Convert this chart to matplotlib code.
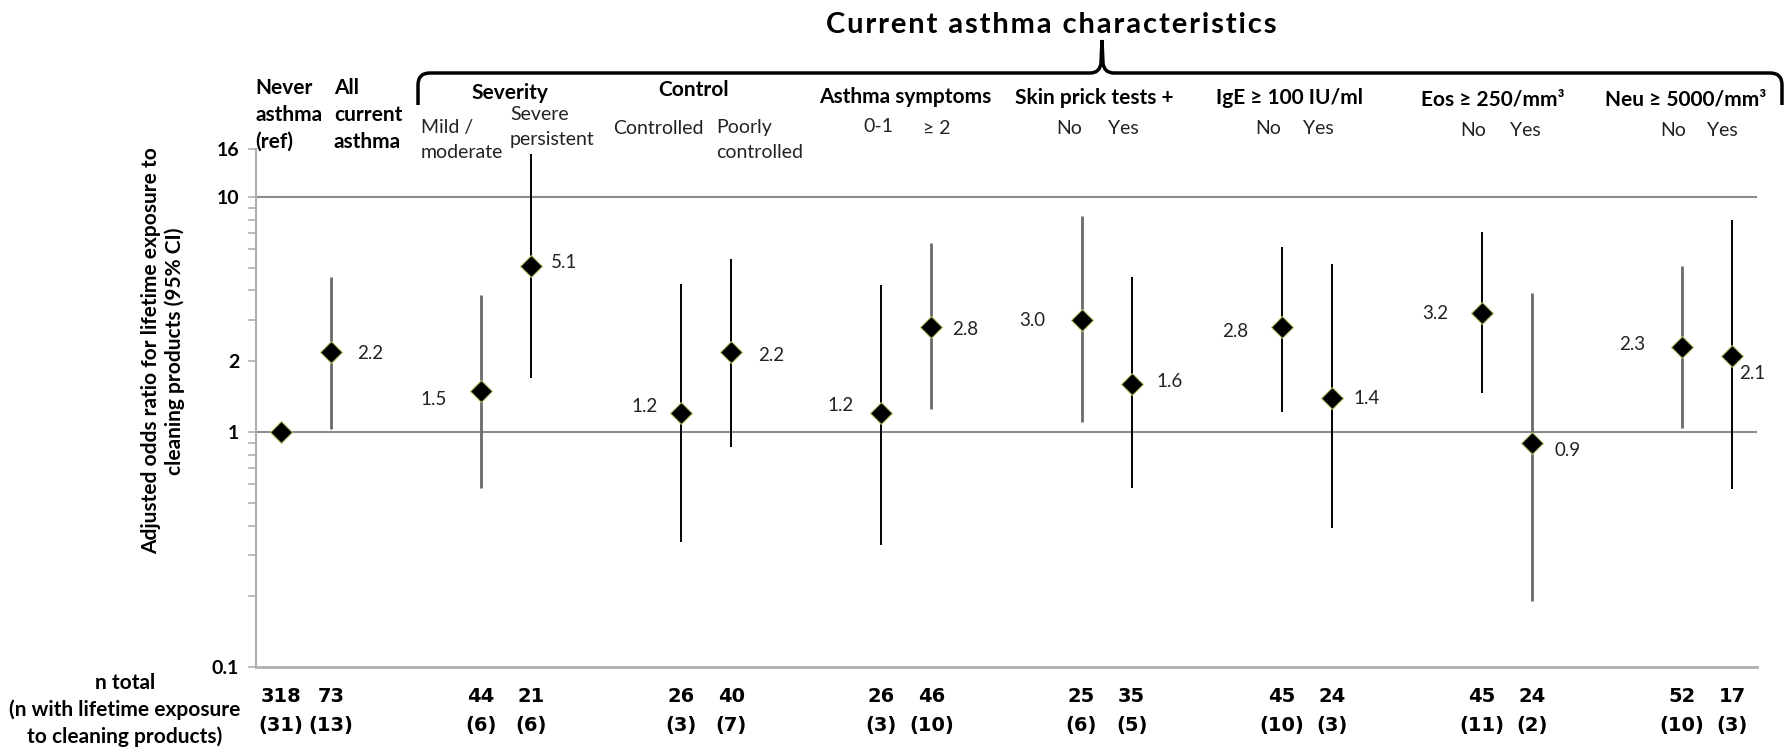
import numpy as np
import matplotlib.pyplot as plt
import matplotlib.transforms as mtrans
from matplotlib.path import Path
from matplotlib.patches import PathPatch
from matplotlib.ticker import FixedLocator, NullFormatter

plt.rcParams['font.family'] = ['Lato', 'DejaVu Sans']

# -------------------------
# Data
# -------------------------
groups = ["Never asthma (ref)", "All current asthma", "Mild / moderate", "Severe persistent",
          "Controlled", "Poorly controlled", "Symptoms 0-1", "Symptoms >= 2",
          "SPT No", "SPT Yes", "IgE No", "IgE Yes", "Eos No", "Eos Yes", "Neu No", "Neu Yes"]
# category slot of each estimate (blank slots separate the groups)
slots = [0, 1, 4, 5, 8, 9, 12, 13, 16, 17, 20, 21, 24, 25, 28, 29]

odds = [1.0, 2.2, 1.5, 5.1, 1.2, 2.2, 1.2, 2.8, 3.0, 1.6, 2.8, 1.4, 3.2, 0.9, 2.3, 2.1]
ci_low = [np.nan, 1.03, 0.58, 1.70, 0.34, 0.86, 0.33, 1.25, 1.10, 0.58, 1.22, 0.39, 1.47, 0.19, 1.04, 0.57]
ci_high = [np.nan, 4.57, 3.83, 15.2, 4.26, 5.45, 4.22, 6.37, 8.30, 4.57, 6.13, 5.19, 7.10, 3.90, 5.09, 7.98]
show_label = [False] + [True] * 15

n_total = [318, 73, 44, 21, 26, 40, 26, 46, 25, 35, 45, 24, 45, 24, 52, 17]
n_exposed = [31, 13, 6, 6, 3, 7, 3, 10, 6, 5, 10, 3, 11, 2, 10, 3]

# -------------------------
# Styling
# -------------------------
W, H = 1786, 749
GRAY = "#6a6a6a"
line_cols = ["k", GRAY, GRAY, "k", "k", "k", "k", GRAY, GRAY, "k", "k", "k", "k", GRAY, GRAY, "k"]
# label offsets in pixels (dx, dy), negative dx -> label to the left
label_offsets = [(0, 0), (26, -2), (-34, -9), (20, 3), (-24, 7), (27, -4), (-28, 8), (21, -3),
                 (-36, -1), (25, 3), (-33, -5), (22, -1), (-33, 0), (23, -8), (-37, 2), (7, -17)]


def fx(px):
    return px / W


def fy(py):
    return 1 - py / H


fig = plt.figure(figsize=(W / 100, H / 100), dpi=100)
ax = fig.add_axes([fx(256), fy(667), fx(1757) - fx(256), fy(149) - fy(667)])

ax.set_yscale("log")
ax.set_ylim(0.1, 16)
ax.set_xlim(-0.5, 29.5)

for v in [1, 10]:
    ax.axhline(v, color="#8c8c8c", lw=1.5, zorder=1)

for x, lo, hi, c in zip(slots, ci_low, ci_high, line_cols):
    if np.isnan(lo):
        continue
    ax.vlines(x, lo, hi, color=c, lw=2.0 if c == GRAY else 1.4, zorder=2)

ax.plot(slots, odds, linestyle="none", marker="D", markersize=11.5,
        markerfacecolor="black", markeredgecolor="#b5c46a", markeredgewidth=0.8, zorder=3)

for x, v, show, (dx, dy) in zip(slots, odds, show_label, label_offsets):
    if not show:
        continue
    ax.annotate(f"{v:.1f}", (x, v), xytext=(dx, dy), textcoords="offset pixels",
                ha="left" if dx > 0 else "right", va="center", fontsize=13.5, color="#222222")

# axes look
for s in ["top", "right"]:
    ax.spines[s].set_visible(False)
ax.spines["left"].set_color("#b0b0b0")
ax.spines["bottom"].set_color("#b0b0b0")
ax.spines["left"].set_linewidth(1.5)
ax.spines["bottom"].set_linewidth(2)
ax.set_xticks([])

ax.yaxis.set_major_locator(FixedLocator([0.1, 1, 2, 10, 16]))
ax.set_yticklabels(["0.1", "1", "2", "10", "16"], fontweight="bold", fontsize=14)
ax.yaxis.set_minor_locator(FixedLocator([0.2, 0.3, 0.4, 0.5, 0.6, 0.7, 0.8, 0.9,
                                         3, 4, 5, 6, 7, 8, 9]))
ax.yaxis.set_minor_formatter(NullFormatter())
ax.tick_params(axis="y", which="both", direction="out", length=6, color="#b0b0b0", width=1.2)
ax.tick_params(axis="y", which="major", pad=6)

fig.text(fx(163), fy(351), "Adjusted odds ratio for lifetime exposure to\ncleaning products (95% CI)",
         rotation=90, ha="center", va="center", fontsize=15, fontweight="bold", linespacing=1.25)

# -------------------------
# Header texts
# -------------------------
title = "Current asthma characteristics"
fig.text(fx(1051), fy(25), "\u200a".join(title), ha="center", va="center",
         fontsize=21, fontweight="bold")

bold_hdr = dict(ha="left", va="center", fontsize=15, fontweight="bold")
for i, line in enumerate(["Never", "asthma", "(ref)"]):
    fig.text(fx(255), fy(88 + 27 * i), line, **bold_hdr)
for i, line in enumerate(["All", "current", "asthma"]):
    fig.text(fx(334), fy(88 + 27 * i), line, **bold_hdr)

group_titles = [("Severity", 510, 93), ("Control", 694, 90), ("Asthma symptoms", 905, 97),
                ("Skin prick tests +", 1094, 98), ("IgE ≥ 100 IU/ml", 1289, 98),
                ("Eos ≥ 250/mm³", 1493, 100), ("Neu ≥ 5000/mm³", 1686, 100)]
for txt, x, y in group_titles:
    fig.text(fx(x), fy(y), txt, ha="center", va="center", fontsize=15, fontweight="bold")

sub = dict(va="center", fontsize=14, color="#222222")
fig.text(fx(421), fy(128), "Mild /", ha="left", **sub)
fig.text(fx(421), fy(153), "moderate", ha="left", **sub)
fig.text(fx(510), fy(115), "Severe", ha="left", **sub)
fig.text(fx(510), fy(140), "persistent", ha="left", **sub)
fig.text(fx(613), fy(128), "Controlled", ha="left", **sub)
fig.text(fx(716), fy(128), "Poorly", ha="left", **sub)
fig.text(fx(716), fy(153), "controlled", ha="left", **sub)
fig.text(fx(878), fy(127), "0-1", ha="center", **sub)
fig.text(fx(937), fy(128), "≥ 2", ha="center", **sub)
for xn, xy, y in [(1069, 1123, 128), (1268, 1318, 129), (1473, 1525, 130), (1673, 1722, 130)]:
    fig.text(fx(xn), fy(y), "No", ha="center", **sub)
    fig.text(fx(xy), fy(y), "Yes", ha="center", **sub)

# brace over the current asthma groups
by, bb, tip_x, tip_y = 73, 105, 1102, 40
verts = [(418, bb), (418, by + 12), (418, by), (430, by), (tip_x - 12, by),
         (tip_x - 2, by), (tip_x - 1, by - 10), (tip_x, tip_y),
         (tip_x + 1, by - 10), (tip_x + 2, by), (tip_x + 12, by),
         (1770, by), (1782, by), (1782, by + 12), (1782, bb)]
codes = [Path.MOVETO, Path.LINETO, Path.CURVE3, Path.CURVE3, Path.LINETO,
         Path.CURVE3, Path.CURVE3, Path.LINETO,
         Path.LINETO, Path.CURVE3, Path.CURVE3,
         Path.LINETO, Path.CURVE3, Path.CURVE3, Path.LINETO]
verts = [(fx(a), fy(b)) for a, b in verts]
fig.add_artist(PathPatch(Path(verts, codes), fill=False, lw=2.5, edgecolor="black",
                         transform=fig.transFigure))

# -------------------------
# Bottom counts
# -------------------------
for i, line in enumerate(["n total", "(n with lifetime exposure", "to cleaning products)"]):
    fig.text(fx(125), fy(683 + 27 * i), line, ha="center", va="center",
             fontsize=15, fontweight="bold")

blend = mtrans.blended_transform_factory(ax.transData, fig.transFigure)
for x, nt, ne in zip(slots, n_total, n_exposed):
    fig.text(x, fy(697), str(nt), transform=blend, ha="center", va="center",
             fontsize=14, fontweight="bold", family="Liberation Sans Narrow")
    fig.text(x, fy(725), f"({ne})", transform=blend, ha="center", va="center",
             fontsize=14, fontweight="bold", family="Liberation Sans Narrow")

fig.savefig("out.png", dpi=100)
